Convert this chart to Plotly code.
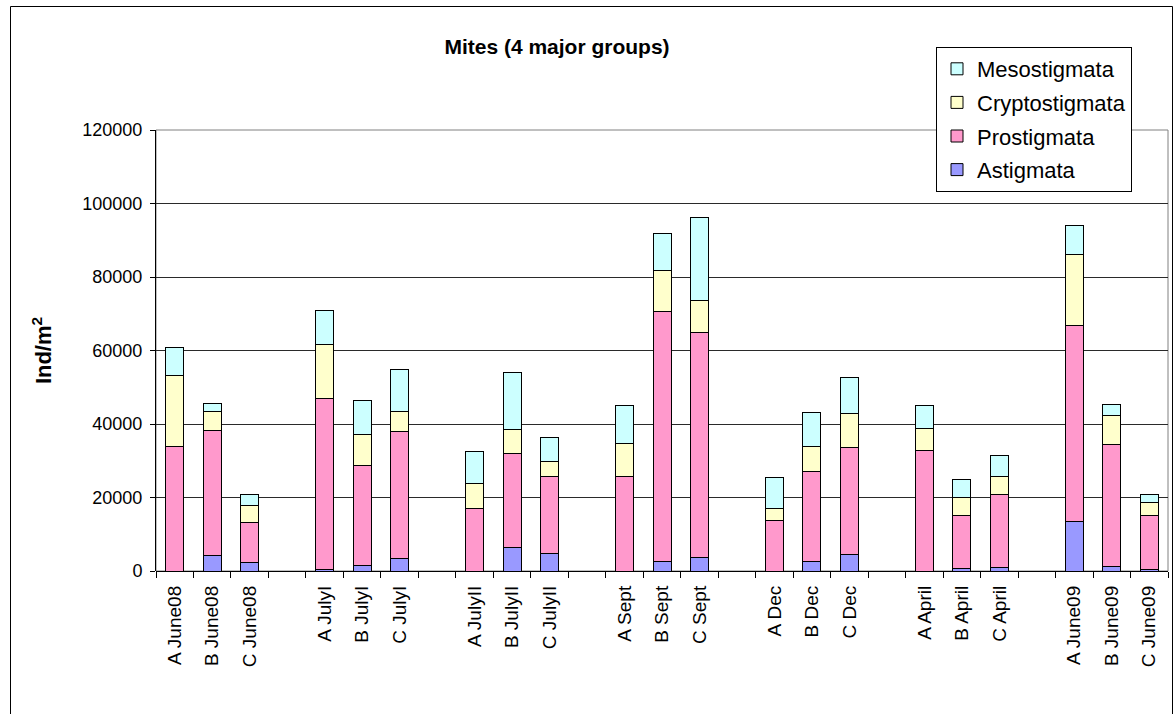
import plotly.graph_objects as go

# Sample labels (site A/B/C per sampling date)
samples = [
    "A June08", "B June08", "C June08",
    "A JulyI", "B JulyI", "C JulyI",
    "A JulyII", "B JulyII", "C JulyII",
    "A Sept", "B Sept", "C Sept",
    "A Dec", "B Dec", "C Dec",
    "A April", "B April", "C April",
    "A June09", "B June09", "C June09",
]

# Densities (Ind/m2) for each mite group
astigmata = [0, 4100, 2300, 500, 1500, 3300, 0, 6500, 4700, 0, 2700, 3600,
             0, 2600, 4400, 0, 800, 1000, 13400, 1200, 500]
prostigmata = [34000, 34200, 10800, 46400, 27100, 34700, 16900, 25500, 21100,
               25800, 68000, 61200, 13800, 24400, 29300, 32700, 14400, 19800,
               53500, 33300, 14700]
cryptostigmata = [19300, 5200, 4600, 14800, 8600, 5300, 7000, 6600, 4000,
                  8900, 11200, 8700, 3200, 7000, 9100, 6200, 4900, 5000,
                  19100, 7900, 3500]
mesostigmata = [7400, 2100, 3100, 9100, 9100, 11500, 8500, 15500, 6400,
                10200, 9900, 22800, 8500, 9200, 9800, 6000, 4900, 5500,
                8000, 2900, 2100]

y_ticks = [0, 20000, 40000, 60000, 80000, 100000, 120000]

# (name, values, fill colour, legend rank) -- stacked bottom to top
series = [
    ("Astigmata", astigmata, "#9999FF", 4),
    ("Prostigmata", prostigmata, "#FF99CC", 3),
    ("Cryptostigmata", cryptostigmata, "#FFFFCC", 2),
    ("Mesostigmata", mesostigmata, "#CCFFFF", 1),
]

# Category axis with an empty slot between sampling dates
cats = []
slot_of = []
gap_n = 0
for i, s in enumerate(samples):
    if i > 0 and i % 3 == 0:
        gap_n += 1
        cats.append("\u200b" * gap_n)
    slot_of.append(len(cats))
    cats.append(s)


def expand(vals):
    out = [None] * len(cats)
    for idx, v in zip(slot_of, vals):
        out[idx] = v
    return out


fig = go.Figure()
for name, vals, color, rank in series:
    fig.add_trace(go.Bar(
        name=name,
        x=cats,
        y=expand(vals),
        marker=dict(color=color, line=dict(color="#000000", width=1)),
        legendgroup=name,
        legendrank=rank,
    ))

font_family = "Liberation Sans, Arial, sans-serif"

# Plot-area geometry in pixels (for the chart frame)
L, R, T, B = 156, 1168, 130, 571
W, H = R - L, B - T


def px_x(p):
    return (p - L) / W


def px_y(p):
    return (B - p) / H


fig.update_layout(
    width=1174,
    height=714,
    barmode="stack",
    bargap=0.52,
    paper_bgcolor="white",
    plot_bgcolor="white",
    margin=dict(l=L, r=1174 - R, t=T, b=714 - B),
    font=dict(family=font_family, size=17, color="#000000"),
    title=dict(
        text="<b>Mites (4 major groups)</b>",
        x=557 / 1174, xanchor="center", xref="container",
        y=1 - 47 / 714, yanchor="middle", yref="container",
        font=dict(size=21, family=font_family, color="#000000"),
    ),
    legend=dict(
        tracegroupgap=2,
        x=px_x(936), xanchor="left",
        y=px_y(47), yanchor="top",
        bgcolor="white",
        bordercolor="#000000",
        borderwidth=1,
        font=dict(size=22, family=font_family),
        itemclick=False,
    ),
    showlegend=True,
    xaxis=dict(
        type="category",
        categoryorder="array",
        categoryarray=cats,
        tickson="boundaries",
        ticks="outside",
        ticklen=6,
        tickcolor="#000000",
        tickangle=-90,
        ticklabelstandoff=10,
        tickfont=dict(size=19, family=font_family),
        showgrid=False,
        showline=False,
        zeroline=False,
    ),
    yaxis=dict(
        range=[0, 120000],
        tickvals=y_ticks,
        ticktext=[str(v) for v in y_ticks],
        ticks="outside",
        ticklen=5,
        tickcolor="#000000",
        showgrid=True,
        gridcolor="#2a2a2a",
        gridwidth=1,
        showline=True,
        linecolor="#000000",
        linewidth=1,
        zeroline=True,
        zerolinecolor="#000000",
        zerolinewidth=1,
        ticklabelstandoff=4,
        tickfont=dict(size=18, family=font_family),
        title=dict(text="<b>Ind/m<sup>2</sup></b>", standoff=24,
                   font=dict(size=22, family=font_family)),
    ),
    shapes=[
        # plot-area frame
        dict(type="rect", xref="paper", yref="paper", x0=0, x1=1, y0=0, y1=1,
             line=dict(color="#808080", width=1), layer="below"),
        # chart-area frame
        dict(type="rect", xref="paper", yref="paper",
             x0=px_x(10.5), x1=px_x(1172.5), y0=px_y(730), y1=px_y(6.5),
             line=dict(color="#000000", width=1), layer="below"),
    ],
)

fig.write_html("out.html")
